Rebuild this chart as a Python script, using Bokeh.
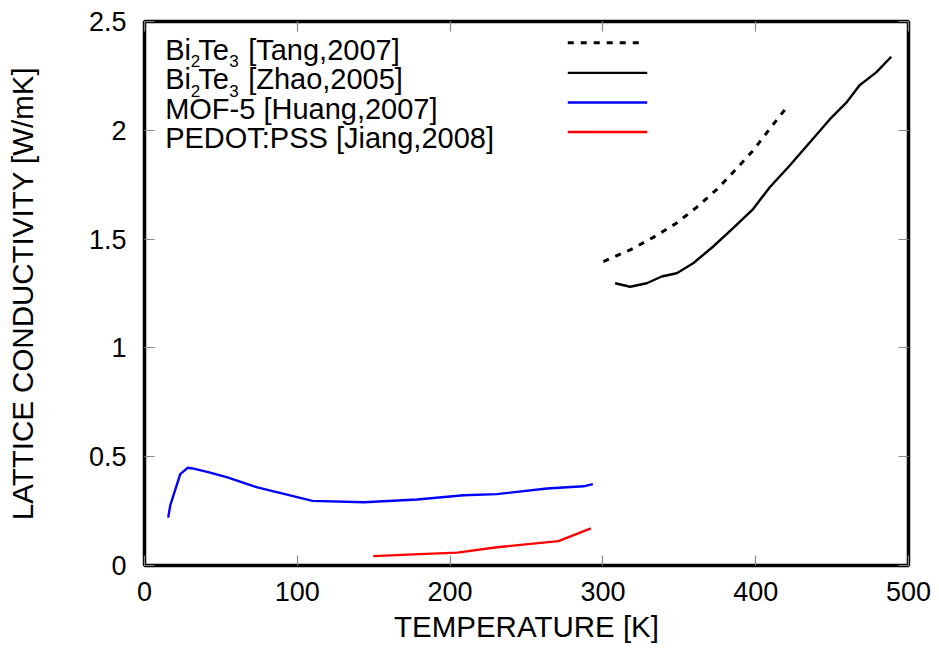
from bokeh.plotting import figure
from bokeh.models import Range1d, LinearAxis, FixedTicker, Label
from bokeh.embed import file_html
from bokeh.resources import INLINE

# ---- data ----
tang_T = [300.3, 317.8, 333.0, 348.3, 361.3, 374.4, 386.3, 398.3, 409.2, 420.1]
tang_k = [1.397, 1.450, 1.508, 1.574, 1.646, 1.727, 1.815, 1.907, 2.007, 2.104]

zhao_T = [308.0, 317.8, 328.7, 338.5, 348.3, 359.1, 372.2, 385.2, 398.3, 409.2,
          422.3, 437.5, 448.4, 459.3, 468.0, 478.9, 488.7]
zhao_k = [1.297, 1.281, 1.297, 1.328, 1.343, 1.389, 1.466, 1.550, 1.638, 1.738,
          1.838, 1.961, 2.050, 2.127, 2.207, 2.266, 2.338]

mof_T = [15.5, 16.9, 23.4, 28.2, 31.5, 42.3, 54.3, 73.9, 109.9, 143.6, 178.4,
         208.9, 230.7, 263.4, 287.3, 293.4]
mof_k = [0.220, 0.277, 0.420, 0.449, 0.446, 0.428, 0.405, 0.359, 0.297, 0.291,
         0.303, 0.323, 0.328, 0.354, 0.364, 0.374]

pedot_T = [149.7, 176.2, 204.6, 230.7, 270.9, 292.1]
pedot_k = [0.043, 0.051, 0.059, 0.084, 0.112, 0.171]

x_ticks = [0, 100, 200, 300, 400, 500]
y_ticks = [0, 0.5, 1, 1.5, 2, 2.5]

FONT = "Liberation Sans"

p = figure(width=939, height=652, output_backend="svg", toolbar_location=None,
           x_range=Range1d(0, 500), y_range=Range1d(0, 2.5),
           min_border_left=144, min_border_right=31, min_border_top=21,
           min_border_bottom=87)
p.grid.visible = False
p.background_fill_color = "white"
p.border_fill_color = "white"
p.outline_line_color = "black"
p.outline_line_width = 3.5

def style_axis(ax, ticks, labels=True):
    ax.ticker = FixedTicker(ticks=ticks)
    ax.axis_line_color = None
    ax.major_tick_in = 10
    ax.major_tick_out = 0
    ax.major_tick_line_color = "#8a8a8a"
    ax.major_tick_line_width = 1.2
    ax.minor_tick_line_color = None
    if labels:
        ax.major_label_text_font = FONT
        ax.major_label_text_font_size = "27px"
        ax.major_label_text_color = "black"
        ax.axis_label_text_font = FONT
        ax.axis_label_text_font_size = "29.5px"
        ax.axis_label_text_font_style = "normal"
        ax.axis_label_text_color = "black"
    else:
        ax.major_label_overrides = {t: "" for t in ticks}
        ax.major_label_text_font_size = "1px"
        ax.major_label_standoff = 0

xa = p.xaxis[0]
ya = p.yaxis[0]
style_axis(xa, x_ticks)
style_axis(ya, y_ticks)
xa.axis_label = "TEMPERATURE [K]"
ya.axis_label = "LATTICE CONDUCTIVITY [W/mK]"
xa.major_label_standoff = 16
xa.axis_label_standoff = 6
ya.major_label_standoff = 18
ya.axis_label_standoff = 47

top = LinearAxis()
style_axis(top, x_ticks, labels=False)
p.add_layout(top, "above")
right = LinearAxis()
style_axis(right, y_ticks, labels=False)
p.add_layout(right, "right")

# ---- data lines ----
p.line(tang_T, tang_k, line_color="black", line_width=3, line_dash="6 7")
p.line(zhao_T, zhao_k, line_color="black", line_width=2.4)
p.line(mof_T, mof_k, line_color="#0000ff", line_width=2.4)
p.line(pedot_T, pedot_k, line_color="#ff0000", line_width=2.4)

# ---- manual legend (text left, sample right) ----
leg_x = 13.5
rows_base = [2.371, 2.235, 2.099, 1.965]
sub_drop = 0.0534
sample_y = [2.402, 2.264, 2.128, 1.992]

def lab(text, x_off, y, size):
    p.add_layout(Label(x=leg_x, y=y, x_offset=x_off, text=text,
                       text_font=FONT, text_font_size=size, text_color="black",
                       text_baseline="alphabetic", text_align="left"))

for i, ref in enumerate(["[Tang,2007]", "[Zhao,2005]"]):
    y = rows_base[i]
    lab("Bi", 0, y, "29px")
    lab("2", 25.5, y - sub_drop, "17px")
    lab("Te", 33, y, "29px")
    lab("3", 64, y - sub_drop, "17px")
    lab(ref, 83, y, "29px")
lab("MOF-5 [Huang,2007]", 0, rows_base[2], "29px")
lab("PEDOT:PSS [Jiang,2008]", 0, rows_base[3], "29px")

p.line([277, 325], [sample_y[0]] * 2, line_color="black", line_width=3, line_dash="6 7")
p.line([277, 329], [sample_y[1]] * 2, line_color="black", line_width=2.4)
p.line([277, 329], [sample_y[2]] * 2, line_color="#0000ff", line_width=2.4)
p.line([277, 329], [sample_y[3]] * 2, line_color="#ff0000", line_width=2.4)

open("out.html", "w").write(file_html(p, INLINE))
